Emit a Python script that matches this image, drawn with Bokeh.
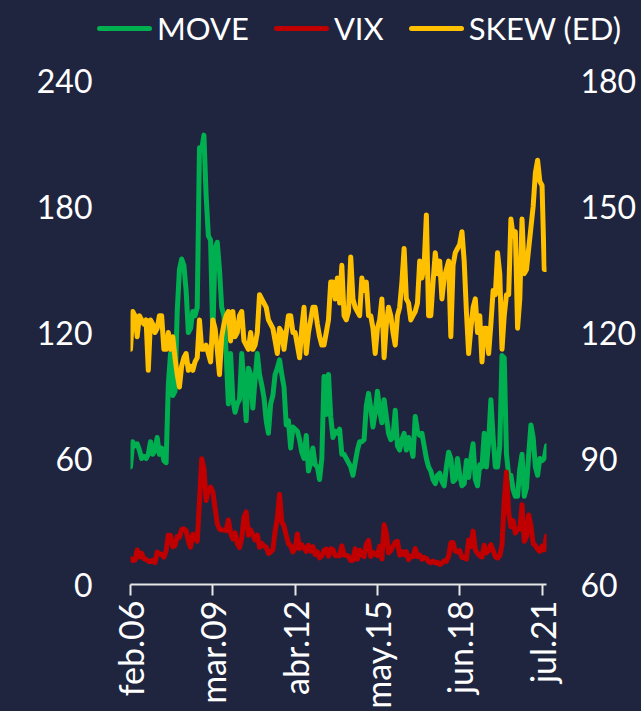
import math
from bokeh.plotting import figure
from bokeh.layouts import column
from bokeh.models import Range1d, LinearAxis, FixedTicker, Div
from bokeh.embed import file_html
from bokeh.resources import INLINE

BG = "#1F253F"
FONT = "Lato"
FS = "32px"
C_MOVE, C_VIX, C_SKEW = "#00B050", "#C00000", "#FFC000"

# Monthly observations, feb.2006 .. sep.2021 (category index on the x axis)
tick_index = [0, 37, 74, 111, 148, 185]
tick_labels = ["feb.06", "mar.09", "abr.12", "may.15", "jun.18", "jul.21"]

move = [
    56, 68, 66, 67, 64, 60, 61, 60, 62, 68, 62,                 # 2006
    64, 70, 62, 65, 59, 58, 95, 110, 90, 92, 130, 150,          # 2007
    155, 152, 140, 120, 122, 130, 128, 132, 208, 207, 214, 185, # 2008
    166, 164, 118, 160, 163, 150, 132, 128, 110, 86, 110, 88,   # 2009
    82, 86, 88, 110, 95, 78, 103, 100, 84, 98, 110, 100,        # 2010
    95, 89, 78, 72, 86, 90, 100, 103, 107, 100, 94, 76,         # 2011
    78, 65, 75, 74, 73, 69, 63, 60, 71, 54, 58, 65,             # 2012
    57, 56, 50, 60, 99, 81, 100, 80, 70, 73, 72, 74,            # 2013
    62, 62, 60, 58, 56, 52, 58, 64, 68, 68, 69, 85,             # 2014
    91, 84, 75, 82, 92, 83, 77, 88, 80, 72, 69, 70,             # 2015
    83, 66, 64, 69, 72, 64, 70, 66, 61, 80, 73, 71,             # 2016
    72, 66, 60, 56, 54, 50, 48, 52, 53, 49, 47, 56,             # 2017
    63, 60, 49, 50, 60, 52, 47, 48, 59, 51, 60, 67,             # 2018
    50, 47, 57, 56, 72, 56, 68, 88, 70, 56, 56, 66,             # 2019
    109, 108, 62, 52, 52, 45, 42, 42, 55, 62, 42, 46,           # 2020
    62, 76, 70, 56, 52, 60, 59, 60, 66,                         # 2021
]

vix = [
    12.3, 11.4, 11.6, 16.4, 13.1, 14.95, 12.3, 11.98, 11.1, 10.9, 11.56,
    10.42, 15.42, 14.64, 14.22, 13.05, 16.23, 23.52, 23.38, 18.0, 18.53, 22.87, 22.5,
    26.2, 26.54, 25.61, 20.79, 17.83, 23.95, 22.94, 20.65, 39.39, 59.89, 55.28, 40.0,
    44.84, 46.35, 44.14, 36.5, 28.92, 26.35, 25.92, 26.01, 25.61, 30.69, 24.51, 21.68,
    24.62, 19.5, 17.59, 22.05, 32.07, 34.54, 23.5, 26.05, 23.7, 21.2, 23.54, 17.75,
    19.53, 18.35, 17.74, 14.75, 15.45, 16.52, 25.25, 31.62, 42.96, 29.96, 27.8, 23.4,
    19.44, 18.43, 15.5, 17.15, 24.06, 17.08, 18.93, 17.47, 15.73, 18.6, 15.87, 18.02,
    14.28, 15.51, 12.7, 13.52, 16.3, 16.86, 13.45, 17.01, 16.6, 13.75, 13.7, 13.72,
    18.41, 14.0, 13.88, 13.41, 11.4, 11.57, 16.95, 12.09, 16.31, 14.03, 13.33, 19.2,
    20.97, 13.34, 15.29, 14.55, 13.84, 18.23, 12.12, 28.43, 24.5, 15.07, 16.13, 18.21,
    20.2, 20.55, 13.95, 15.7, 14.19, 15.63, 11.87, 13.42, 13.29, 17.06, 13.33, 14.04,
    11.99, 12.92, 12.37, 10.82, 10.41, 11.18, 10.26, 10.59, 9.51, 10.18, 11.28, 11.04,
    13.54, 19.85, 19.97, 15.93, 15.43, 16.09, 12.83, 12.86, 12.12, 21.23, 18.07, 25.42,
    16.57, 14.78, 13.71, 13.12, 18.71, 15.08, 16.12, 18.98, 16.24, 13.22, 12.62, 13.78,
    18.84, 40.11, 53.54, 34.15, 27.51, 30.43, 24.46, 26.41, 26.37, 38.02, 20.57, 22.75,
    33.09, 27.95, 19.4, 18.61, 16.76, 15.83, 18.24, 16.48, 23.14,
]

skew = [
    116, 125, 124, 119, 124, 123, 122, 123, 111, 123, 122,
    120, 121, 124, 124, 116, 116, 120, 116, 119, 114, 110, 107,
    112, 114, 115, 111, 112, 111, 113, 114, 123, 116, 116, 117,
    115, 113, 123, 121, 116, 110, 119, 122, 124, 125, 118, 125,
    119, 120, 124, 125, 118, 117, 116, 120, 116, 117, 120, 129,
    128, 127, 126, 123, 122, 121, 118, 115, 121, 120, 116, 120,
    124, 124, 120, 120, 117, 114, 121, 126, 115, 120, 123, 126,
    126, 122, 119, 117, 117, 120, 123, 132, 132, 128, 133, 127,
    136, 124, 123, 125, 138, 128, 126, 125, 124, 133, 130, 132,
    124, 124, 121, 115, 121, 123, 128, 114, 122, 126, 124, 120,
    117, 124, 126, 132, 140, 128, 127, 123, 124, 125, 127, 137,
    133, 136, 148, 124, 124, 132, 139, 134, 137, 128, 133, 135,
    137, 119, 136, 139, 140, 141, 144, 137, 125, 115, 121, 126,
    128, 120, 124, 113, 121, 121, 115, 122, 130, 129, 139, 134,
    116, 124, 129, 129, 147, 143, 144, 121, 128, 147, 134, 135,
    140, 145, 150, 158, 161, 156, 155, 135, 135,
]

series_names = ["MOVE", "VIX", "SKEW (ED)"]
series_colors = [C_MOVE, C_VIX, C_SKEW]

n = min(len(move), len(vix), len(skew))
x = list(range(n))

left_ticks = [0, 60, 120, 180, 240]
right_ticks = [60, 90, 120, 150, 180]

# ---------- legend strip (HTML text) ----------
parts = []
for k, (nm, c) in enumerate(zip(series_names, series_colors)):
    ml = 0 if k == 0 else 25
    parts.append(
        '<span style="display:inline-block;width:55px;height:5px;border-radius:3px;'
        'background:%s;margin-left:%dpx;margin-right:5px;"></span>'
        '<span>%s</span>' % (c, ml, nm))
legend_html = ('<div style="display:flex;align-items:center;height:57px;padding-left:97px;'
               'font-family:Lato,sans-serif;font-size:31px;color:white;line-height:1;'
               'white-space:nowrap;">%s</div>' % "".join(parts))
leg = Div(text=legend_html, width=641, height=57, margin=0,
          styles={"background-color": BG})

# ---------- main chart ----------
p = figure(width=641, height=654,
           x_range=Range1d(0, n - 1), y_range=Range1d(0, 240),
           output_backend="svg", toolbar_location=None,
           min_border_left=130, min_border_right=95,
           min_border_top=23, min_border_bottom=127,
           background_fill_color=BG, border_fill_color=BG,
           outline_line_color=None, margin=0)
p.xgrid.visible = False
p.ygrid.visible = False

p.extra_y_ranges = {"skew": Range1d(60, 180)}
rax = LinearAxis(y_range_name="skew", ticker=FixedTicker(ticks=right_ticks))
p.add_layout(rax, "right")

for ax in [p.yaxis[0], rax]:
    ax.axis_line_color = None
    ax.major_tick_line_color = None
    ax.minor_tick_line_color = None
    ax.major_label_text_color = "white"
    ax.major_label_text_font = FONT
    ax.major_label_text_font_size = FS
p.yaxis[0].ticker = FixedTicker(ticks=left_ticks)
p.yaxis[0].major_label_standoff = 32
rax.major_label_standoff = 28

xa = p.xaxis[0]
xa.ticker = FixedTicker(ticks=tick_index)
xa.major_label_overrides = {t: l for t, l in zip(tick_index, tick_labels)}
xa.major_label_orientation = math.pi / 2
xa.axis_line_color = "#E6E6E6"
xa.axis_line_width = 2
xa.major_tick_line_color = "#E6E6E6"
xa.major_tick_line_width = 2
xa.major_tick_in = 0
xa.major_tick_out = 11
xa.minor_tick_line_color = None
xa.major_label_text_color = "white"
xa.major_label_text_font = FONT
xa.major_label_text_font_size = "34px"
xa.major_label_standoff = 5

lw = 5
for vals, c, rng in [(move, C_MOVE, "default"), (vix, C_VIX, "default"), (skew, C_SKEW, "skew")]:
    p.line(x, vals[:n], line_color=c, line_width=lw, line_join="round", line_cap="round",
           y_range_name=rng)

layout = column(leg, p, spacing=0)
html = file_html(layout, INLINE)
style = "<style>html, body { background-color: %s !important; }</style>" % BG
i = html.rfind("</head>")
html = html[:i] + style + html[i:]
open("out.html", "w").write(html)
